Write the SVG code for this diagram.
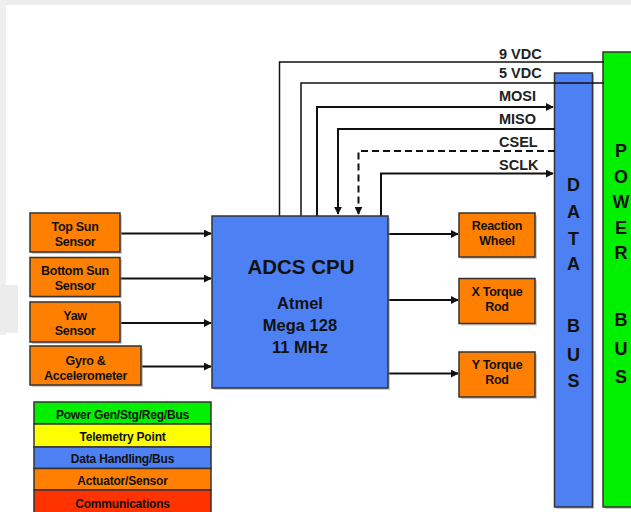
<svg xmlns="http://www.w3.org/2000/svg" width="631" height="512" viewBox="0 0 631 512">
<style>
.box{stroke:#333;stroke-width:1.5}
.sh{fill:#999;opacity:0.5}
.org{fill:#FF8000}
.blu{fill:#4D80F2}
.grn{fill:#00F000}
.t{font-family:"Liberation Sans",Arial,sans-serif;font-weight:bold;fill:#111;text-anchor:middle}
.s{font-size:12.5px;letter-spacing:-0.3px}
.lg{font-size:12px;letter-spacing:-0.2px}
.bus{font-size:18px}
.lbl{font-family:"Liberation Sans",Arial,sans-serif;font-weight:bold;font-size:14.5px;fill:#222}
.w{fill:none;stroke:#111;stroke-width:1.5}
.a{fill:none;stroke:#111;stroke-width:2;marker-end:url(#ah)}
</style>
<defs>
<marker id="ah" viewBox="0 0 10 10" refX="9" refY="5" markerWidth="4" markerHeight="4" orient="auto" markerUnits="strokeWidth">
<path d="M0,0 L10,5 L0,10 z" fill="#111"/>
</marker>
</defs>
<rect x="0" y="0" width="631" height="512" fill="#fff"/>
<rect x="0" y="0" width="631" height="5" fill="#ececec"/>
<rect x="0" y="0" width="6" height="335" fill="#efefef"/>
<rect x="0" y="285" width="18" height="48" fill="#ececec"/>

<g id="power-bus">
<rect class="sh" x="605" y="54" width="30" height="455"/>
<rect class="box grn" x="603" y="52" width="30" height="455"/>
<text class="t bus" x="621" y="157">P</text>
<text class="t bus" x="621" y="183">O</text>
<text class="t bus" x="621" y="208">W</text>
<text class="t bus" x="621" y="234">E</text>
<text class="t bus" x="621" y="259">R</text>
<text class="t bus" x="621" y="326">B</text>
<text class="t bus" x="621" y="355">U</text>
<text class="t bus" x="621" y="383">S</text>
</g>

<g id="data-bus">
<rect class="sh" x="556" y="75" width="38" height="434"/>
<rect class="box blu" x="554.5" y="73" width="38" height="434"/>
<text class="t bus" x="573.5" y="191">D</text>
<text class="t bus" x="573.5" y="218">A</text>
<text class="t bus" x="573.5" y="245">T</text>
<text class="t bus" x="573.5" y="270">A</text>
<text class="t bus" x="573.5" y="332">B</text>
<text class="t bus" x="573.5" y="361">U</text>
<text class="t bus" x="573.5" y="387">S</text>
</g>

<g id="connectors">
<polyline class="w" points="279.5,216 279.5,62 604,62"/>
<polyline class="w" points="301,216 301,83 604,83"/>
<polyline class="a" points="317,216 317,107 553,107"/>
<polyline class="a" points="555,129 338,129 338,214"/>
<polyline class="a" points="555,151 358.5,151 358.5,214" stroke-dasharray="7,4"/>
<polyline class="a" points="381,216 381,173.5 553,173.5"/>
<line class="a" x1="121" y1="233.5" x2="211" y2="233.5"/>
<line class="a" x1="120" y1="278.5" x2="211" y2="278.5"/>
<line class="a" x1="121" y1="323" x2="211" y2="323"/>
<line class="a" x1="142" y1="366.5" x2="211" y2="366.5"/>
<line class="a" x1="388" y1="234" x2="458" y2="234"/>
<line class="a" x1="388" y1="300" x2="458" y2="300"/>
<line class="a" x1="388" y1="373.5" x2="458" y2="373.5"/>
<text class="lbl" x="499" y="59">9 VDC</text>
<text class="lbl" x="499" y="78">5 VDC</text>
<text class="lbl" x="499" y="101">MOSI</text>
<text class="lbl" x="499" y="124">MISO</text>
<text class="lbl" x="499" y="147">CSEL</text>
<text class="lbl" x="499" y="170">SCLK</text>
</g>

<g id="cpu">
<rect class="sh" x="214" y="218" width="176" height="172"/>
<rect class="box blu" x="212" y="216" width="176" height="172"/>
<text class="t" x="301" y="274" font-size="20.5">ADCS CPU</text>
<text class="t" x="300" y="309" font-size="16.5">Atmel</text>
<text class="t" x="300" y="331" font-size="16.5">Mega 128</text>
<text class="t" x="300" y="353" font-size="16.5">11 MHz</text>
</g>

<g id="top-sun-sensor">
<rect class="sh" x="32" y="215" width="90" height="39"/>
<rect class="box org" x="30" y="213" width="90" height="39"/>
<text class="t s" x="75" y="230.5">Top Sun</text>
<text class="t s" x="75" y="246">Sensor</text>
</g>
<g id="bottom-sun-sensor">
<rect class="sh" x="32" y="259" width="90" height="39"/>
<rect class="box org" x="30" y="257.5" width="90" height="39"/>
<text class="t s" x="75" y="275">Bottom Sun</text>
<text class="t s" x="75" y="290">Sensor</text>
</g>
<g id="yaw-sensor">
<rect class="sh" x="32" y="304" width="90" height="40"/>
<rect class="box org" x="30" y="302" width="90" height="40"/>
<text class="t s" x="75" y="319.5">Yaw</text>
<text class="t s" x="75" y="334.5">Sensor</text>
</g>
<g id="gyro">
<rect class="sh" x="32" y="348" width="111" height="39"/>
<rect class="box org" x="30" y="346" width="111" height="39"/>
<text class="t s" x="85.5" y="365">Gyro &amp;</text>
<text class="t s" x="85.5" y="379.5">Accelerometer</text>
</g>

<g id="reaction-wheel">
<rect class="sh" x="461" y="215" width="76" height="44"/>
<rect class="box org" x="459" y="213" width="76" height="44"/>
<text class="t s" x="497" y="230">Reaction</text>
<text class="t s" x="497" y="245">Wheel</text>
</g>
<g id="x-torque-rod">
<rect class="sh" x="461" y="280.5" width="76" height="45"/>
<rect class="box org" x="459" y="278.5" width="76" height="45"/>
<text class="t s" x="497" y="296">X Torque</text>
<text class="t s" x="497" y="311">Rod</text>
</g>
<g id="y-torque-rod">
<rect class="sh" x="461" y="354" width="76" height="45"/>
<rect class="box org" x="459" y="352" width="76" height="45"/>
<text class="t s" x="497" y="369">Y Torque</text>
<text class="t s" x="497" y="384">Rod</text>
</g>

<g id="legend">
<rect class="box" x="34" y="402" width="177" height="22" fill="#00F000"/>
<rect class="box" x="34" y="424" width="177" height="23" fill="#FFFF00"/>
<rect class="box" x="34" y="447" width="177" height="21.5" fill="#4D80F2"/>
<rect class="box" x="34" y="468.5" width="177" height="21.5" fill="#FF8000"/>
<rect class="box" x="34" y="490" width="177" height="26" fill="#FF3300"/>
<text class="t lg" x="122.5" y="419">Power Gen/Stg/Reg/Bus</text>
<text class="t lg" x="122.5" y="441">Telemetry Point</text>
<text class="t lg" x="122.5" y="462.5">Data Handling/Bus</text>
<text class="t lg" x="122.5" y="485">Actuator/Sensor</text>
<text class="t lg" x="122.5" y="507.5">Communications</text>
</g>
</svg>
